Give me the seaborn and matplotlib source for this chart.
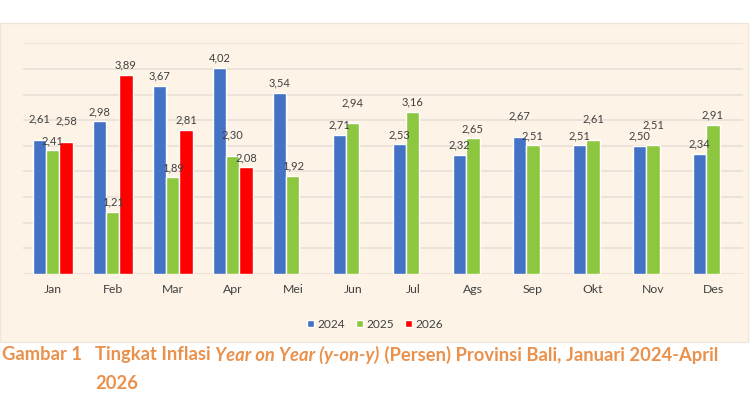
import numpy as np
import pandas as pd
import matplotlib
matplotlib.use("Agg")
import matplotlib.pyplot as plt
from matplotlib.patches import Rectangle
import seaborn as sns

# data
bulan = ["Jan", "Feb", "Mar", "Apr", "Mei", "Jun", "Jul", "Ags", "Sep", "Okt", "Nov", "Des"]
tahun = ["2024", "2025", "2026"]
inflasi_2024 = [2.61, 2.98, 3.67, 4.02, 3.54, 2.71, 2.53, 2.32, 2.67, 2.51, 2.50, 2.34]
inflasi_2025 = [2.41, 1.21, 1.89, 2.30, 1.92, 2.94, 3.16, 2.65, 2.51, 2.61, 2.51, 2.91]
inflasi_2026 = [2.58, 3.89, 2.81, 2.08]
warna = ["#4472C4", "#8DC63F", "#FF0000"]

judul = "Gambar 1"
keterangan = [("Tingkat Inflasi ", "normal"),
              ("Year on Year (y-on-y)", "italic"),
              (" (Persen) Provinsi Bali, Januari 2024-April", "normal")]
keterangan_baris2 = "2026"

rows = []
for th, vals in zip(tahun, [inflasi_2024, inflasi_2025, inflasi_2026]):
    for b, v in zip(bulan, vals):
        rows.append({"Bulan": b, "Tahun": th, "Inflasi": v})
df = pd.DataFrame(rows)

sns.set_style("white")
plt.rcParams["font.family"] = ["Lato", "DejaVu Sans"]

fig = plt.figure(figsize=(7.5, 4.2), dpi=100)
fig.patch.set_facecolor("white")
bg = "#FDF4E7"
fig.add_artist(Rectangle((0, 0.186), 0.997, 0.759, transform=fig.transFigure,
                         facecolor=bg, edgecolor="#EEE6DC", lw=1, zorder=0))

ax = fig.add_axes([0.0303, 0.3476, 0.9604, 0.5493])
ax.set_facecolor(bg)
ax.patch.set_alpha(0)

sns.barplot(data=df, x="Bulan", y="Inflasi", hue="Tahun", hue_order=tahun,
            order=bulan, palette=warna, width=0.66, saturation=1,
            errorbar=None, ax=ax, zorder=3)

# label nilai; kalau dua batang bersebelahan hampir sama tinggi, label yang lebih tinggi dinaikkan
bars = {}
for th, cont in zip(tahun, ax.containers):
    for rect in cont.patches:
        h = rect.get_height()
        if np.isnan(h) or h == 0:
            continue
        i = int(round(rect.get_x() + rect.get_width() / 2))
        bars[(i, th)] = rect

naik = set()
for i in range(len(bulan)):
    for a, b in [("2024", "2025"), ("2025", "2026")]:
        if (i, a) in bars and (i, b) in bars:
            ha, hb = bars[(i, a)].get_height(), bars[(i, b)].get_height()
            if abs(ha - hb) < 0.3:
                naik.add((i, a) if ha >= hb else (i, b))

for key, rect in bars.items():
    h = rect.get_height()
    pad = 11 if key in naik else 3
    ax.annotate(f"{h:.2f}".replace(".", ","),
                (rect.get_x() + rect.get_width() / 2, h),
                xytext=(0, pad), textcoords="offset points",
                ha="center", va="bottom", fontsize=8, color="#404040",
                annotation_clip=False, zorder=5)

ax.set_ylim(0, 4.5)
ax.set_xlim(-0.5, 11.5)
ax.set_yticks(np.arange(0, 4.51, 0.5))
ax.set_yticklabels([])
ax.grid(axis="y", color="#E6DDD5", lw=1.1, zorder=0)
ax.set_axisbelow(True)
sns.despine(ax=ax, left=True, bottom=True, right=True, top=True)
ax.tick_params(axis="both", length=0)
ax.tick_params(axis="x", labelsize=8.8, colors="#404040", pad=7)
ax.set_xlabel("")
ax.set_ylabel("")

leg = ax.legend(loc="center", bbox_to_anchor=(0.5, 0.228), bbox_transform=fig.transFigure,
                ncol=3, frameon=False, fontsize=8.6, handlelength=0.6, handleheight=0.6,
                handletextpad=0.3, columnspacing=0.9)
for t in leg.get_texts():
    t.set_color("#404040")

# caption
oranye = "#EA914C"
ukuran = 13.2
fig.text(0.002, 0.155, judul, fontsize=ukuran, fontweight="bold", color=oranye, va="center")
fig.canvas.draw()
renderer = fig.canvas.get_renderer()
x = 0.127
for teks, gaya in keterangan:
    t = fig.text(x, 0.155, teks, fontsize=ukuran, fontweight="bold", style=gaya,
                 color=oranye, va="center")
    bb = t.get_window_extent(renderer=renderer)
    x = fig.transFigure.inverted().transform((bb.x1, 0))[0]
fig.text(0.127, 0.088, keterangan_baris2, fontsize=ukuran, fontweight="bold",
         color=oranye, va="center")

fig.savefig("out.png", dpi=100, facecolor="white")
